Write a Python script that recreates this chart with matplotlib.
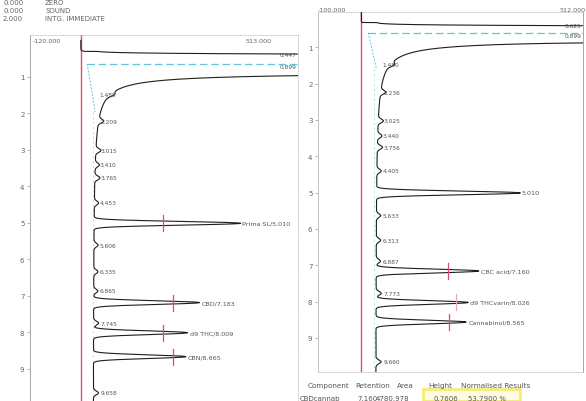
import numpy as np
import matplotlib.pyplot as plt
from matplotlib.patches import Rectangle

W, H = 586, 402

# ---- method header (top left)
header_vals = ['0.000', '0.000', '2.000']
header_cmds = ['ZERO', 'SOUND', 'INTG. IMMEDIATE']

# ---- left run (time in min, signal in mV)
left_minor_t = [1.485, 2.209, 3.015, 3.410, 3.765, 4.453, 5.606, 6.335, 6.865, 7.745, 9.658]
left_minor_h = [10, 12, 12, 10, 12, 10, 10, 10, 10, 12, 12]
left_major_t = [5.010, 7.183, 8.009, 8.665]
left_major_h = [346, 250, 222, 218]
left_major_names = ['Prima SL', 'CBD', 'd9 THC', 'CBN']
left_mark_x = [195, 217, 195, 217]
left_solvent_labels = ['0.447', '0.899']
left_solvent = {'t': 0.60, 'sigma': 0.07, 'tail_t0': 0.84, 'tail_c': 21, 'base': 29}
left_cyan_t = [0.64, 1.96]
left_cyan_x = [15, 34]
left_range = (-120, 513)

# ---- right run
right_minor_t = [1.480, 2.236, 3.025, 3.440, 3.756, 4.405, 5.633, 6.313, 6.887, 7.773, 9.660]
right_minor_h = [10, 12, 12, 10, 12, 10, 10, 10, 10, 12, 12]
right_major_t = [5.010, 7.160, 8.026, 8.565]
right_major_h = [332, 237, 213, 208]
right_major_names = ['', 'CBC acid', 'd9 THCvarin', 'Cannabinol']
right_mark_x = [None, 200, 219, 203]
right_solvent_labels = ['0.625', '0.899']
right_solvent = {'t': 0.62, 'sigma': 0.065, 'tail_t0': 0.75, 'tail_c': 21, 'base': 33}
right_cyan_t = [0.60, 1.60]
right_cyan_x = [16, 35]
right_range = (-100, 512)

# ---- results table
table_cols = ['Component', 'Retention', 'Area', 'Height', 'Normalised Results']
table_row = ['CBDcannab', '7.160', '4780.978', '0.7606', '53.7900 %']

RED = '#e8486a'

fig = plt.figure(figsize=(W / 100, H / 100), dpi=100)
fig.patch.set_facecolor('white')


def px_axes(x0, y0, x1, y1):
    return fig.add_axes([x0 / W, 1 - y1 / H, (x1 - x0) / W, (y1 - y0) / H])


def trace(t, solvent, minor_t, minor_h, major_t, major_h):
    base = np.where(t < solvent['t'] - 0.3, 0, solvent['base'])
    sig = base + 1e5 * np.exp(-0.5 * ((t - solvent['t']) / solvent['sigma']) ** 2)
    # tailing of the solvent front, stays off scale until it comes back
    dt = np.clip(t - solvent['tail_t0'], 1e-3, None)
    sig = sig + np.where(t > solvent['t'], solvent['tail_c'] / dt ** 1.5, 0)
    for tm, hm in zip(minor_t, minor_h):
        sig = sig + hm * np.exp(-0.5 * ((t - tm) / 0.05) ** 2)
    for tm, hm in zip(major_t, major_h):
        sig = sig + hm * np.exp(-0.5 * ((t - tm) / 0.05) ** 2)
    return sig


def draw_run(ax, tlim, xr, solvent, minor_t, minor_h, major_t, major_h, names,
             mark_x, solvent_labels, cyan_t, cyan_x, mark_colors):
    t = np.linspace(0, 10, 6000)
    sig = trace(t, solvent, minor_t, minor_h, major_t, major_h)
    ax.set_xlim(*xr)
    ax.set_ylim(*tlim)
    ax.axvline(0, color=RED, lw=1.0, zorder=1)
    # integration marks
    ax.plot(cyan_x, cyan_t, color='#5fc6dc', lw=0.7, ls=(0, (2, 1.5)), zorder=2)
    ax.plot([cyan_x[0], xr[1]], [cyan_t[0], cyan_t[0]], color='#5fc6dc', lw=0.9,
            ls=(0, (6, 3)), zorder=2)
    ax.plot([cyan_x[1] - 6, cyan_x[1] - 6], [cyan_t[1], tlim[0]], color='#8fd6e6',
            lw=0.5, ls=(0, (3, 4)), zorder=2)
    ax.plot(sig, t, color='#1e1e1e', lw=0.8, zorder=3)
    base = solvent['base']
    for tm, hm in zip(minor_t, minor_h):
        ax.text(base + hm + 6, tm, f'{tm:.3f}', fontsize=4.2, color='#555',
                va='center', ha='left')
    for tm, hm, nm, mx, mc in zip(major_t, major_h, names, mark_x, mark_colors):
        lab = f'{nm}/{tm:.3f}' if nm else f'{tm:.3f}'
        ax.text(base + hm + 6, tm, lab, fontsize=4.6, color='#555',
                va='center', ha='left')
        if mx is not None:
            ax.plot([mx, mx], [tm - 0.22, tm + 0.22], color=mc, lw=0.9, zorder=4)
    ax.text(0.995, solvent['t'] - 0.22, solvent_labels[0], transform=ax.get_yaxis_transform(),
            fontsize=4.2, color='#555', ha='right', va='center')
    ax.text(0.995, cyan_t[0] + 0.07, solvent_labels[1], transform=ax.get_yaxis_transform(),
            fontsize=4.2, color='#555', ha='right', va='center')
    ax.set_xticks([])
    ax.set_yticks(range(1, 10))
    ax.tick_params(axis='y', length=2.5, width=0.5, color='#999', labelsize=5,
                   labelcolor='#666', pad=1.5)
    for s in ax.spines.values():
        s.set_color('#bbb')
        s.set_linewidth(0.6)


# left chromatogram
axl = px_axes(30, 36, 298, 402)
draw_run(axl, (9.88, -0.15), left_range, left_solvent, left_minor_t, left_minor_h,
         left_major_t, left_major_h, left_major_names, left_mark_x, left_solvent_labels,
         left_cyan_t, left_cyan_x, [RED] * 4)
axl.spines['top'].set_linestyle((0, (1, 2)))
axl.spines['right'].set_linestyle((0, (1, 2)))
axl.spines['bottom'].set_visible(False)
axl.spines['left'].set_color('#999')
axl.text(0.01, 0.985, f'{left_range[0]:.3f}', transform=axl.transAxes, fontsize=4.6,
         color='#666', va='center', ha='left')
axl.text(0.90, 0.985, f'{left_range[1]:.3f}', transform=axl.transAxes, fontsize=4.6,
         color='#666', va='center', ha='right')

# right chromatogram
axr = px_axes(318, 13, 583, 373)
draw_run(axr, (9.94, 0.03), right_range, right_solvent, right_minor_t, right_minor_h,
         right_major_t, right_major_h, right_major_names, right_mark_x, right_solvent_labels,
         right_cyan_t, right_cyan_x, [RED, RED, '#eaa2bc', RED])
axr.spines['top'].set_linestyle((0, (1, 2)))
axr.spines['bottom'].set_linestyle((0, (1, 2)))
axr.spines['right'].set_color('#999')
axr.text(0.0, 1.0, f'{right_range[0]:.3f}', transform=axr.transAxes, fontsize=4.6,
         color='#666', va='bottom', ha='left')
axr.text(1.01, 1.0, f'{right_range[1]:.3f}', transform=axr.transAxes, fontsize=4.6,
         color='#666', va='bottom', ha='right')

# method header
for i, (v, c) in enumerate(zip(header_vals, header_cmds)):
    fig.text(3 / W, 1 - (3 + 8 * i) / H, v, fontsize=5, color='#666', va='center')
    fig.text(45 / W, 1 - (3 + 8 * i) / H, c, fontsize=5, color='#666', va='center')

# results table
col_x = [308, 355, 397, 428, 461]
row_x = [300, 357, 376, 433, 468]
for x, s in zip(col_x, table_cols):
    fig.text(x / W, 1 - 386 / H, s, fontsize=5.2, color='#555', va='center')
fig.patches.append(Rectangle((423 / W, 0), 97 / W, 12 / H, transform=fig.transFigure,
                             facecolor='#fdfbe6', edgecolor='#f2ee74', lw=2, zorder=0))
for x, s in zip(row_x, table_row):
    fig.text(x / W, 1 - 399 / H, s, fontsize=5, color='#555', va='center')

fig.savefig('out.png', dpi=100, facecolor='white')
